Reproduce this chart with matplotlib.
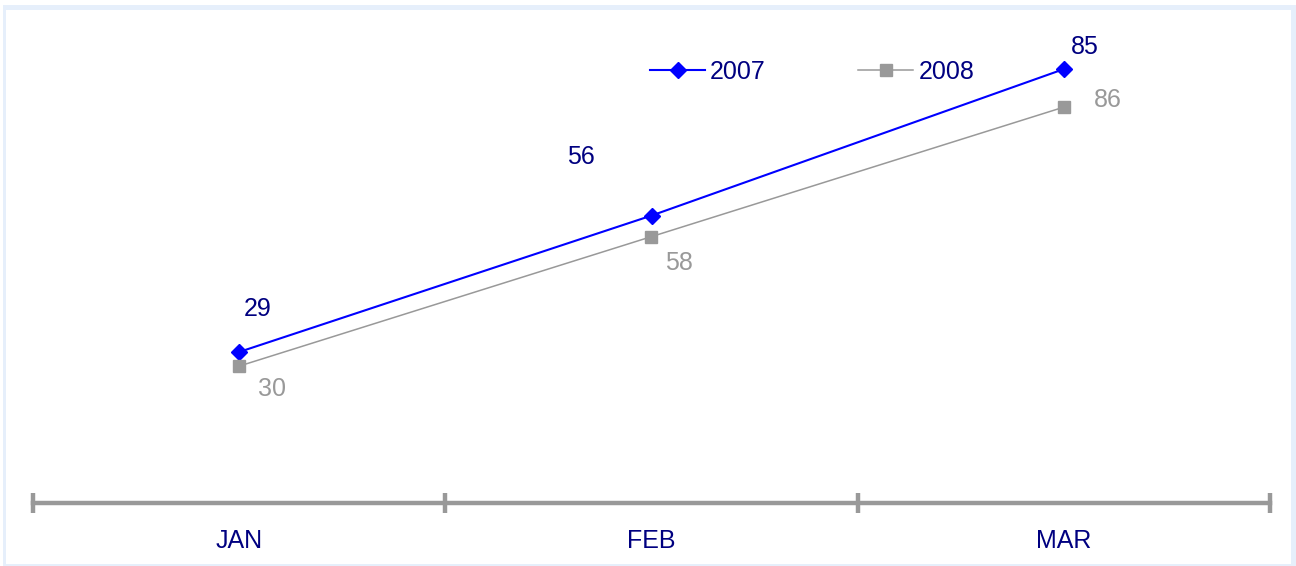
import matplotlib
matplotlib.use("Agg")
import matplotlib.pyplot as plt
from matplotlib.patches import Rectangle
from matplotlib.lines import Line2D

# Data
months = ["JAN", "FEB", "MAR"]
series_names = ["2007", "2008"]
values_2007 = [29, 56, 85]
values_2008 = [30, 58, 86]

# Styling
W, H = 1296, 566
DPI = 100
blue = "#0000ff"
navy = "#000080"
gray = "#999999"
frame_blue = "#e6effb"
plt.rcParams["font.family"] = ["Liberation Sans", "DejaVu Sans"]
FS = 18

fig = plt.figure(figsize=(W / DPI, H / DPI), dpi=DPI, facecolor="white")

# light blue frame around the chart area
fig.patches.append(Rectangle((3 / W, 0), 1 - 3 / W, 1 - 5 / H, transform=fig.transFigure,
                             facecolor=frame_blue, edgecolor="none", zorder=-10))
fig.patches.append(Rectangle((5.5 / W, 2.5 / H), (1291 - 5.5) / W, (556 - 2.5) / H,
                             transform=fig.transFigure, facecolor="white",
                             edgecolor="none", zorder=-9))

left, right = 33 / W, 1270 / W
bottom, top = (H - 503) / H, (H - 10) / H
ax = fig.add_axes([left, bottom, right - left, top - bottom])
ax.set_facecolor("none")
ax2 = ax.twinx()
ax2.set_facecolor("none")

x = list(range(len(months)))

# each series on its own value scale
ax.set_ylim(-0.9, 96.7)
ax2.set_ylim(0.4, 107.0)
for a in (ax, ax2):
    a.set_xlim(-0.5, len(months) - 0.5)
    for s in a.spines.values():
        s.set_visible(False)
    a.tick_params(axis="y", left=False, right=False, labelleft=False, labelright=False)

l1, = ax.plot(x, values_2007, color=blue, lw=1.5, marker="D", ms=8,
              markeredgecolor=blue, markerfacecolor=blue, zorder=5, clip_on=False)
l2, = ax2.plot(x, values_2008, color=gray, lw=1.1, marker="s", ms=8,
               markeredgecolor=gray, markerfacecolor=gray, zorder=4, clip_on=False)

# value labels
offsets_2007 = [(18, 43), (-71, 59), (21, 22)]
offsets_2008 = [(33, -23), (27, -26), (44, 7)]
px = 72 / DPI
for xi, v, (dx, dy) in zip(x, values_2007, offsets_2007):
    ax.annotate(str(v), (xi, v), xytext=(dx * px, dy * px), textcoords="offset points",
                ha="center", va="center", color=navy, fontsize=FS)
for xi, v, (dx, dy) in zip(x, values_2008, offsets_2008):
    ax2.annotate(str(v), (xi, v), xytext=(dx * px, dy * px), textcoords="offset points",
                 ha="center", va="center", color=gray, fontsize=FS)

# category axis drawn as a thick gray baseline with tick marks at band edges
ax.spines["bottom"].set_visible(True)
ax.spines["bottom"].set_color(gray)
ax.spines["bottom"].set_linewidth(3.2)
ax.spines["bottom"].set_position(("axes", 0))
ax.set_xticks([i - 0.5 for i in range(len(months) + 1)])
ax.set_xticklabels([])
ax.tick_params(axis="x", which="major", direction="inout", length=14, width=3.2, color=gray)
ax.set_xticks(x, minor=True)
ax.set_xticklabels(months, minor=True)
ax.tick_params(axis="x", which="minor", length=0, pad=19, labelsize=FS, labelcolor=navy)
ax2.tick_params(axis="x", bottom=False, labelbottom=False)

# legend
h1 = Line2D([], [], color=blue, lw=1.5, marker="D", ms=8)
h2 = Line2D([], [], color=gray, lw=1.1, marker="s", ms=8)
fig.legend([h1, h2], series_names, loc="center left", bbox_to_anchor=(650 / W, 1 - 72 / H),
           ncol=2, frameon=False, fontsize=FS, labelcolor=navy, handlelength=2.2,
           handletextpad=0.2, columnspacing=3.7, borderpad=0, borderaxespad=0)

fig.savefig("out.png", dpi=DPI, facecolor="white")
